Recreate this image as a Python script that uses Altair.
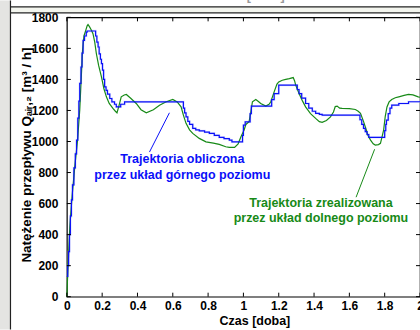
import altair as alt
import pandas as pd

# Trajectory computed by the upper-level controller (stepwise signal)
t_upper = [0.0, 0.005, 0.01, 0.015, 0.02, 0.026, 0.032, 0.04, 0.048, 0.055, 0.062, 0.068,
           0.073, 0.08, 0.086, 0.092, 0.1, 0.11, 0.115, 0.158, 0.163, 0.17, 0.177, 0.183,
           0.19, 0.196, 0.202, 0.208, 0.214, 0.222, 0.23, 0.243, 0.255, 0.27, 0.28, 0.29,
           0.305, 0.327, 0.656, 0.66, 0.667, 0.675, 0.685, 0.695, 0.713, 0.73, 0.75, 0.78,
           0.807, 0.835, 0.863, 0.89, 0.92, 0.935, 0.99, 0.995, 1.0, 1.01, 1.03, 1.038,
           1.045, 1.155, 1.16, 1.174, 1.19, 1.2, 1.296, 1.305, 1.315, 1.33, 1.352, 1.37,
           1.39, 1.409, 1.43, 1.446, 1.653, 1.66, 1.67, 1.68, 1.69, 1.7, 1.71, 1.794,
           1.8, 1.806, 1.81, 1.82, 1.83, 1.84, 1.88, 1.935, 2.0]
q_upper = [130, 200, 290, 400, 520, 624, 720, 830, 920, 1009, 1150, 1260,
           1374, 1480, 1570, 1652, 1680, 1705, 1712, 1712, 1680, 1640, 1609, 1565,
           1530, 1502, 1460, 1400, 1352, 1330, 1305, 1277, 1255, 1240, 1223, 1223,
           1240, 1255, 1255, 1215, 1185, 1159, 1130, 1110, 1084, 1075, 1069, 1060,
           1052, 1040, 1027, 1018, 1009, 998, 998, 1040, 1105, 1127, 1127, 1180,
           1228, 1228, 1270, 1309, 1309, 1363, 1363, 1335, 1309, 1280, 1245, 1215,
           1195, 1181, 1175, 1170, 1170, 1140, 1110, 1085, 1063, 1045, 1027, 1027,
           1070, 1110, 1138, 1180, 1215, 1234, 1245, 1256, 1256]

# Trajectory realised by the lower-level controller
t_lower = [0.0, 0.005, 0.017, 0.03, 0.045, 0.06, 0.073, 0.082, 0.089, 0.097, 0.107, 0.115,
           0.12, 0.128, 0.14, 0.148, 0.158, 0.167, 0.18, 0.196, 0.21, 0.224, 0.24, 0.261,
           0.275, 0.284, 0.295, 0.308, 0.325, 0.337, 0.36, 0.393, 0.42, 0.45, 0.49, 0.525,
           0.56, 0.6, 0.625, 0.647, 0.66, 0.675, 0.695, 0.713, 0.75, 0.788, 0.83, 0.863,
           0.9, 0.92, 0.95, 0.97, 0.986, 1.004, 1.014, 1.032, 1.042, 1.051, 1.07, 1.085,
           1.098, 1.127, 1.145, 1.155, 1.174, 1.19, 1.2, 1.22, 1.24, 1.26, 1.282, 1.29,
           1.296, 1.315, 1.335, 1.352, 1.38, 1.409, 1.43, 1.446, 1.47, 1.493, 1.51, 1.52,
           1.531, 1.545, 1.559, 1.6, 1.634, 1.65, 1.663, 1.68, 1.69, 1.705, 1.72, 1.735,
           1.747, 1.765, 1.776, 1.785, 1.794, 1.803, 1.813, 1.825, 1.84, 1.86, 1.88, 1.91,
           1.935, 1.96, 1.99, 2.0]
q_lower = [0, 150, 452, 650, 838, 1000, 1202, 1420, 1588, 1680, 1716, 1745,
           1753, 1740, 1715, 1695, 1640, 1567, 1490, 1416, 1340, 1288, 1245, 1213,
           1195, 1185, 1230, 1288, 1300, 1303, 1280, 1245, 1205, 1185, 1205, 1234,
           1255, 1271, 1255, 1223, 1170, 1117, 1075, 1052, 1020, 998, 990, 981,
           966, 962, 962, 985, 1030, 1074, 1110, 1127, 1190, 1256, 1271, 1258,
           1245, 1228, 1240, 1256, 1320, 1370, 1384, 1395, 1400, 1405, 1412, 1390,
           1363, 1309, 1260, 1223, 1180, 1149, 1128, 1123, 1135, 1159, 1190, 1225,
           1228, 1215, 1213, 1212, 1206, 1195, 1181, 1130, 1095, 1040, 1009, 985,
           977, 980, 988, 1030, 1074, 1160, 1223, 1255, 1271, 1282, 1288, 1297,
           1303, 1300, 1288, 1285]

x_ticks = [0, 0.2, 0.4, 0.6, 0.8, 1.0, 1.2, 1.4, 1.6, 1.8, 2.0]
y_ticks = [0, 200, 400, 600, 800, 1000, 1200, 1400, 1600, 1800]

upper_label = ["Trajektoria obliczona", "przez układ górnego poziomu"]
lower_label = ["Trajektoria zrealizowana", "przez układ dolnego poziomu"]

BLUE = "#0a10f8"
GREEN = "#178a17"
FONT = "Liberation Sans"
W, H = 354, 280

xs = alt.Scale(domain=[0, 2], nice=False)
ys = alt.Scale(domain=[0, 1800], nice=False)

upper = pd.DataFrame({"t": t_upper, "q": q_upper})
lower = pd.DataFrame({"t": t_lower, "q": q_lower})

x_axis = alt.Axis(values=x_ticks, format="~g", ticks=False, domain=False, grid=False,
                  labelFont=FONT, labelFontWeight="bold", labelFontSize=12,
                  labelColor="black", labelPadding=4, labelOverlap=False, labelFlush=False,
                  title="Czas [doba]", titleFont=FONT, titleFontWeight="bold",
                  titleFontSize=12.5, titleColor="black", titlePadding=3,
                  titleX=188, titleAlign="center")
y_axis = alt.Axis(values=y_ticks, format="d", ticks=False, domain=False, grid=False,
                  labelFont=FONT, labelFontWeight="bold", labelFontSize=12,
                  labelColor="black", labelPadding=9, labelOverlap=False, labelFlush=False,
                  title=None)


def X(field):
    return alt.X(field, scale=xs, axis=x_axis)


def Y(field):
    return alt.Y(field, scale=ys, axis=y_axis)


halo = alt.Chart(upper).mark_line(interpolate="step-after", color="#a8b0ff",
                                  strokeWidth=2.3, opacity=0.4).encode(x=X("t:Q"), y=Y("q:Q"))
blue_line = alt.Chart(upper).mark_line(interpolate="step-after", color=BLUE,
                                       strokeWidth=1.2).encode(x=X("t:Q"), y=Y("q:Q"))
green_line = alt.Chart(lower).mark_line(color=GREEN, strokeWidth=1.2).encode(
    x=X("t:Q"), y=Y("q:Q"))

# inward ticks on all four sides of the frame
xt = pd.DataFrame({"t": x_ticks})
yt = pd.DataFrame({"q": y_ticks})
tick_b = alt.Chart(xt).mark_rule(color="black", strokeWidth=1).encode(
    x=X("t:Q"), y=alt.value(H), y2=alt.value(H - 4))
tick_t = alt.Chart(xt).mark_rule(color="black", strokeWidth=1).encode(
    x=X("t:Q"), y=alt.value(0), y2=alt.value(4))
tick_l = alt.Chart(yt).mark_rule(color="black", strokeWidth=1).encode(
    y=Y("q:Q"), x=alt.value(0), x2=alt.value(4))
tick_r = alt.Chart(yt).mark_rule(color="black", strokeWidth=1).encode(
    y=Y("q:Q"), x=alt.value(W - 4), x2=alt.value(W))

# annotations with pointer lines
ann_up = pd.DataFrame({"t": [0.654, 0.654], "q": [887, 784], "s": upper_label})
ann_lo = pd.DataFrame({"t": [1.439, 1.439], "q": [604, 508], "s": lower_label})
txt_up = alt.Chart(ann_up).mark_text(font=FONT, fontWeight="bold", fontSize=12.5,
                                     color=BLUE, align="center", baseline="middle").encode(
    x=X("t:Q"), y=Y("q:Q"), text="s:N")
txt_lo = alt.Chart(ann_lo).mark_text(font=FONT, fontWeight="bold", fontSize=12.5,
                                     color=GREEN, align="center", baseline="middle").encode(
    x=X("t:Q"), y=Y("q:Q"), text="s:N")
ptr_up = alt.Chart(pd.DataFrame({"t": [0.468], "q": [932], "t2": [0.581], "q2": [1185]})).mark_rule(
    color=BLUE, strokeWidth=1).encode(x=X("t:Q"), y=Y("q:Q"), x2="t2:Q", y2="q2:Q")
ptr_lo = alt.Chart(pd.DataFrame({"t": [1.638], "q": [641], "t2": [1.743], "q2": [950]})).mark_rule(
    color=GREEN, strokeWidth=1).encode(x=X("t:Q"), y=Y("q:Q"), x2="t2:Q", y2="q2:Q")

# y-axis title with sub/superscripts
ytitle = alt.Chart(pd.DataFrame({"s": ["Natężenie przepływu Qₐᵢᵣ,₂ [m³ / h]"]})).mark_text(
    font=FONT, fontWeight="bold", fontSize=13.5, angle=270, color="black",
    align="center", baseline="middle").encode(
    x=alt.value(-40), y=alt.value(H / 2 - 2), text="s:N")

# slide framing around the figure
left_strip = alt.Chart(pd.DataFrame({"a": [0]})).mark_rect(color="#e4e4e2").encode(
    x=alt.value(-67), x2=alt.value(-57), y=alt.value(-17), y2=alt.value(H + 33))
band = alt.Chart(pd.DataFrame({"a": [0]})).mark_rect(color="#f3f5ee").encode(
    x=alt.value(-57), x2=alt.value(W + 5), y=alt.value(-10.5), y2=alt.value(-5))
frame_top = alt.Chart(pd.DataFrame({"a": [0]})).mark_rule(color="#222", strokeWidth=1.2).encode(
    x=alt.value(-57), x2=alt.value(W + 5), y=alt.value(-4.5))
frame_top2 = alt.Chart(pd.DataFrame({"a": [0]})).mark_rule(color="#222", strokeWidth=1.2).encode(
    x=alt.value(-57), x2=alt.value(W + 5), y=alt.value(-10.5))
frame_left = alt.Chart(pd.DataFrame({"a": [0]})).mark_rule(color="#222", strokeWidth=1.2).encode(
    x=alt.value(-56.5), y=alt.value(-17), y2=alt.value(H + 33))
top_cut = alt.Chart(pd.DataFrame({"s": ["Czas [doba]"]})).mark_text(
    font=FONT, fontWeight="bold", fontSize=12.5, color="#9a9a9a", align="center",
    baseline="alphabetic").encode(x=alt.value(183), y=alt.value(-17.5), text="s:N")

chart = alt.layer(
    left_strip, band, frame_top, frame_top2, frame_left, top_cut,
    halo, green_line, blue_line,
    tick_b, tick_t, tick_l, tick_r,
    ptr_up, ptr_lo, txt_up, txt_lo, ytitle,
).properties(
    width=W, height=H,
    autosize=alt.AutoSizeParams(type="none"),
    padding={"left": 67, "top": 17, "right": 0, "bottom": 33},
    background="white",
).configure_view(stroke="black", strokeWidth=1.2)

chart.save("out.html", embed_options={"renderer": "svg", "actions": False})
